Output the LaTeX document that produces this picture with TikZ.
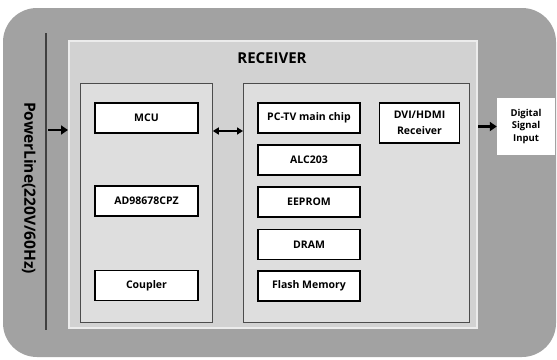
\documentclass[tikz,border=0pt]{standalone}
\usepackage{fontspec}
\setmainfont{Open Sans}
\usetikzlibrary{arrows.meta}
\definecolor{outergray}{HTML}{A2A2A2}
\definecolor{recgray}{HTML}{D2D2D2}
\definecolor{ingray}{HTML}{DEDEDE}
\tikzset{
  itembox/.style={draw=black, line width=1.2pt, fill=white, minimum width=103pt, minimum height=30pt, inner sep=1pt, font=\fontsize{10.5}{15}\selectfont\bfseries, align=center},
  panel/.style={draw=black!70, line width=0.8pt, fill=ingray, inner sep=0pt},
  arr/.style={line width=2.6pt, -{Triangle[length=7pt,width=9pt]}},
  darr/.style={line width=1.6pt, {Triangle[length=6pt,width=7pt]}-{Triangle[length=6pt,width=7pt]}}
}
\begin{document}
\begin{tikzpicture}[x=1pt,y=-1pt]
\useasboundingbox (0,0) rectangle (557,359);
\fill[white] (0,0) rectangle (557,359);
\fill[outergray, rounded corners=34pt] (3,8) rectangle (556,357);
% vertical power line
\coordinate (ptop) at (46,33);
\coordinate (pbot) at (46,330);
\draw[black!75, line width=1.5pt] (ptop) -- (pbot);
\node[rotate=-90, font=\fontsize{15.5}{17}\selectfont\bfseries] (pl) at (29,188) {PowerLine(220V/60Hz)};
% receiver
\node[anchor=north west, fill=recgray, draw=white!85!gray, line width=2pt, minimum width=408pt, minimum height=287pt, inner sep=0pt] (rec) at (68,40) {};
\node[font=\fontsize{15}{17}\selectfont\bfseries] (title) at (272,58) {RECEIVER};
% panels
\node[panel, anchor=north west, minimum width=132pt, minimum height=239pt] (lp) at (80,83) {};
\node[panel, anchor=north west, minimum width=226pt, minimum height=239pt] (rp) at (243,83) {};
% left items
\node[itembox] (mcu) at (146.5,118) {MCU};
\node[itembox] (ad) at (146.5,201) {AD98678CPZ};
\node[itembox] (cp) at (146.5,285.5) {Coupler};
% right items
\node[itembox, minimum width=102pt] (pc) at (309,118) {PC-TV main chip};
\node[itembox, minimum width=102pt] (alc) at (309,160) {ALC203};
\node[itembox, minimum width=102pt] (ee) at (309,202) {EEPROM};
\node[itembox, minimum width=102pt] (dr) at (309,244.5) {DRAM};
\node[itembox, minimum width=102pt] (fl) at (309,286) {Flash Memory};
\node[itembox, minimum width=80pt, minimum height=40pt, font=\fontsize{10.5}{16}\selectfont\bfseries] (dvi) at (419.5,123) {DVI/HDMI\\Receiver};
% digital signal input
\node[fill=white, minimum width=58pt, minimum height=57pt, inner sep=0pt, align=center, font=\fontsize{9.5}{12.5}\selectfont\bfseries] (dig) at (526,126.5) {Digital\\Signal\\Input};
% arrows
\coordinate (pa) at (48,130);
\draw[arr] (pa) -- (pa -| rec.west);
\draw[darr] (lp.east |- 0,131) -- (rp.west |- 0,131);
\draw[arr] (rec.east |- dig.west) -- (dig.west);
\end{tikzpicture}
\end{document}
